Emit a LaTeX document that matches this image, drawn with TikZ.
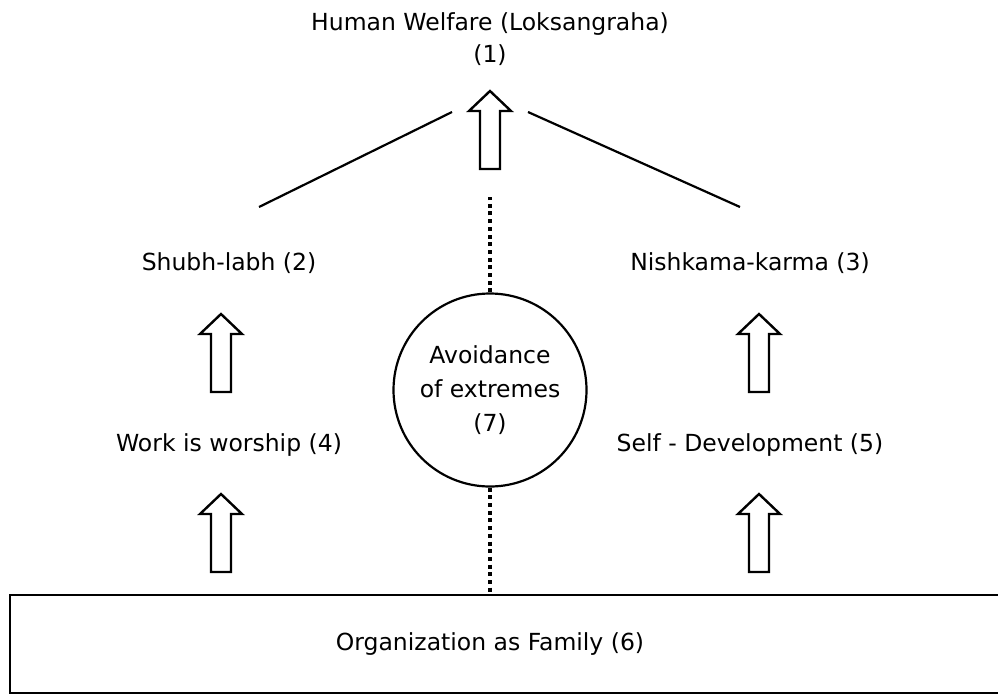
\documentclass[tikz,border=0pt]{standalone}
\usepackage{fontspec}
\setmainfont{DejaVu Sans}
\usepackage{tikz}
\usetikzlibrary{positioning}

\tikzset{
  lbl/.style={font=\fontsize{23.5}{32}\selectfont,align=center},
  fat/.style={draw=black,line width=2.4pt,fill=white,line join=miter},
  upblock/.pic={\draw[fat] (-10,0) -- (-10,-58) -- (-21,-58) -- (0,-78) -- (21,-58) -- (10,-58) -- (10,0) -- cycle;}
}

\begin{document}
\begin{tikzpicture}[x=1pt,y=-1pt,node distance=182pt,inner sep=0pt]
\useasboundingbox (0,0) rectangle (998,694);

\node[lbl] (W) at (490,39) {Human Welfare (Loksangraha)\\(1)};
\node[lbl] (S) at (229,263) {Shubh-labh (2)};
\node[lbl] (N) at (750,263) {Nishkama-karma (3)};
\node[lbl] (K) [below of = S] {Work is worship (4)};
\node[lbl] (D) [below of = N] {Self - Development (5)};
\node[circle,draw=black,line width=2.2pt,minimum size=193pt,lbl,font=\fontsize{23.5}{34}\selectfont] (E) at (490,390) {Avoidance\\of extremes\\(7)};
\node[draw=black,line width=2.8pt,minimum width=1000pt,minimum height=98pt] (F) at (510,644) {};
\node[lbl] (O) at (490,644) {Organization as Family (6)};

% block arrows
\pic at (490,169) {upblock};
\pic at (221,392) {upblock};
\pic at (221,572) {upblock};
\pic at (759,392) {upblock};
\pic at (759,572) {upblock};

\coordinate (L1) at (259,207);
\coordinate (L2) at (452,112);
\coordinate (R1) at (528,112);
\coordinate (R2) at (740,207);
\coordinate (T) at (490,197);

\draw[line width=2.2pt] (L1) -- (L2);
\draw[line width=2.2pt] (R1) -- (R2);
\draw[line width=3.6pt,dash pattern=on 4pt off 3.7pt] (E.north) -- (T);
\draw[line width=3.6pt,dash pattern=on 4pt off 3.7pt] (E.south) -- (E.south |- F.north);

\end{tikzpicture}
\end{document}
